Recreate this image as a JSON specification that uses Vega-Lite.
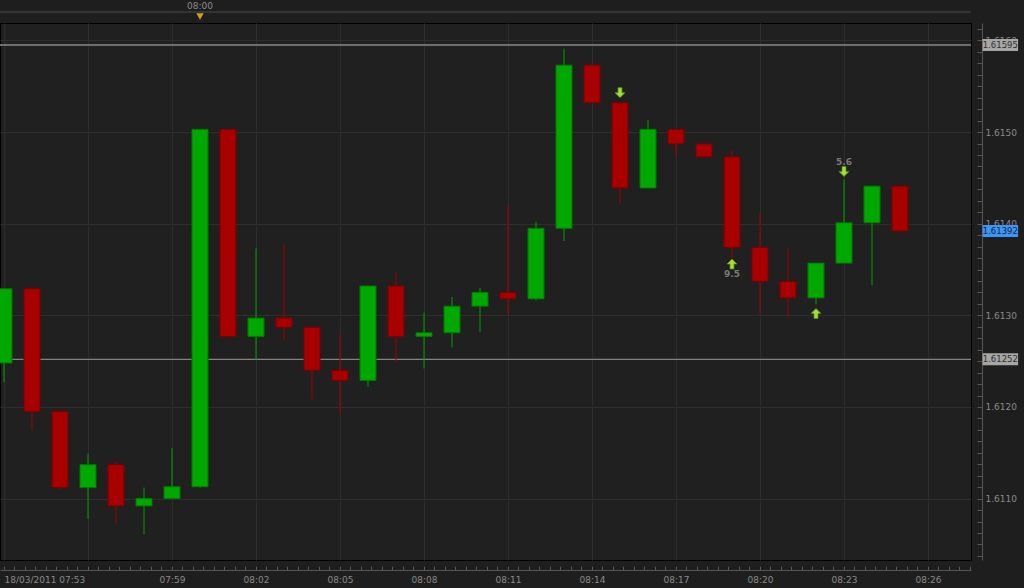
{
  "$schema": "https://vega.github.io/schema/vega-lite/v6.json",
  "width": 971,
  "height": 537,
  "autosize": {"type": "none"},
  "padding": {"left": 0, "top": 23, "right": 53, "bottom": 28},
  "background": "#1e1e1e",
  "config": {
    "view": {"fill": "#202020", "stroke": "#000000", "strokeWidth": 1},
    "axis": {"labelFont": "DejaVu Sans", "labelFontSize": 9, "labelColor": "#8a8a8a", "domainColor": "#555555", "tickColor": "#555555", "gridColor": "#2e2e2e"}
  },
  "resolve": {"axis": {"x": "independent", "y": "independent"}},
  "datasets": {
    "candles": [
      {"time": "2011-03-18T07:53:00Z", "open": 1.61248, "high": 1.61330, "low": 1.61227, "close": 1.61329},
      {"time": "2011-03-18T07:54:00Z", "open": 1.61329, "high": 1.61330, "low": 1.61175, "close": 1.61195},
      {"time": "2011-03-18T07:55:00Z", "open": 1.61195, "high": 1.61196, "low": 1.61110, "close": 1.61112},
      {"time": "2011-03-18T07:56:00Z", "open": 1.61112, "high": 1.61149, "low": 1.61078, "close": 1.61137},
      {"time": "2011-03-18T07:57:00Z", "open": 1.61137, "high": 1.61140, "low": 1.61072, "close": 1.61092},
      {"time": "2011-03-18T07:58:00Z", "open": 1.61092, "high": 1.61112, "low": 1.61061, "close": 1.61100},
      {"time": "2011-03-18T07:59:00Z", "open": 1.61100, "high": 1.61155, "low": 1.61100, "close": 1.61113},
      {"time": "2011-03-18T08:00:00Z", "open": 1.61113, "high": 1.61503, "low": 1.61112, "close": 1.61503},
      {"time": "2011-03-18T08:01:00Z", "open": 1.61503, "high": 1.61503, "low": 1.61277, "close": 1.61277},
      {"time": "2011-03-18T08:02:00Z", "open": 1.61277, "high": 1.61373, "low": 1.61251, "close": 1.61297},
      {"time": "2011-03-18T08:03:00Z", "open": 1.61297, "high": 1.61378, "low": 1.61273, "close": 1.61287},
      {"time": "2011-03-18T08:04:00Z", "open": 1.61287, "high": 1.61288, "low": 1.61208, "close": 1.61240},
      {"time": "2011-03-18T08:05:00Z", "open": 1.61240, "high": 1.61279, "low": 1.61193, "close": 1.61229},
      {"time": "2011-03-18T08:06:00Z", "open": 1.61229, "high": 1.61332, "low": 1.61222, "close": 1.61332},
      {"time": "2011-03-18T08:07:00Z", "open": 1.61332, "high": 1.61347, "low": 1.61249, "close": 1.61277},
      {"time": "2011-03-18T08:08:00Z", "open": 1.61277, "high": 1.61303, "low": 1.61242, "close": 1.61281},
      {"time": "2011-03-18T08:09:00Z", "open": 1.61281, "high": 1.61320, "low": 1.61265, "close": 1.61310},
      {"time": "2011-03-18T08:10:00Z", "open": 1.61310, "high": 1.61330, "low": 1.61282, "close": 1.61325},
      {"time": "2011-03-18T08:11:00Z", "open": 1.61325, "high": 1.61420, "low": 1.61301, "close": 1.61318},
      {"time": "2011-03-18T08:12:00Z", "open": 1.61318, "high": 1.61402, "low": 1.61316, "close": 1.61395},
      {"time": "2011-03-18T08:13:00Z", "open": 1.61395, "high": 1.61591, "low": 1.61381, "close": 1.61573},
      {"time": "2011-03-18T08:14:00Z", "open": 1.61573, "high": 1.61575, "low": 1.61532, "close": 1.61532},
      {"time": "2011-03-18T08:15:00Z", "open": 1.61532, "high": 1.61532, "low": 1.61422, "close": 1.61439},
      {"time": "2011-03-18T08:16:00Z", "open": 1.61439, "high": 1.61513, "low": 1.61439, "close": 1.61503},
      {"time": "2011-03-18T08:17:00Z", "open": 1.61503, "high": 1.61503, "low": 1.61473, "close": 1.61487},
      {"time": "2011-03-18T08:18:00Z", "open": 1.61487, "high": 1.61487, "low": 1.61473, "close": 1.61473},
      {"time": "2011-03-18T08:19:00Z", "open": 1.61473, "high": 1.61480, "low": 1.61355, "close": 1.61374},
      {"time": "2011-03-18T08:20:00Z", "open": 1.61374, "high": 1.61412, "low": 1.61302, "close": 1.61337},
      {"time": "2011-03-18T08:21:00Z", "open": 1.61337, "high": 1.61373, "low": 1.61298, "close": 1.61319},
      {"time": "2011-03-18T08:22:00Z", "open": 1.61319, "high": 1.61357, "low": 1.61312, "close": 1.61357},
      {"time": "2011-03-18T08:23:00Z", "open": 1.61357, "high": 1.61448, "low": 1.61357, "close": 1.61401},
      {"time": "2011-03-18T08:24:00Z", "open": 1.61401, "high": 1.61441, "low": 1.61333, "close": 1.61441},
      {"time": "2011-03-18T08:25:00Z", "open": 1.61441, "high": 1.61441, "low": 1.61392, "close": 1.61392}
    ],
    "signals": [
      {"time": "2011-03-18T08:15:00Z", "price": 1.61543, "dir": "down", "label": ""},
      {"time": "2011-03-18T08:19:00Z", "price": 1.61356, "dir": "up", "label": "9.5"},
      {"time": "2011-03-18T08:22:00Z", "price": 1.61302, "dir": "up", "label": ""},
      {"time": "2011-03-18T08:23:00Z", "price": 1.61457, "dir": "down", "label": "5.6"}
    ],
    "levels": [
      {"level": 1.61595, "kind": "top"},
      {"level": 1.61392, "kind": "last"},
      {"level": 1.61252, "kind": "line"}
    ]
  },
  "layer": [
    {
      "data": {"name": "levels"},
      "transform": [{"filter": "datum.kind != 'last'"}],
      "mark": {"type": "rule"},
      "encoding": {
        "y": {
          "field": "level", "type": "quantitative", "title": null,
          "scale": {"domain": [1.61033, 1.61619], "nice": false, "zero": false},
          "axis": {
            "orient": "right", "offset": 11,
            "values": [1.610375, 1.6105, 1.610625, 1.61075, 1.610875, 1.611, 1.611125, 1.61125, 1.611375, 1.6115, 1.611625, 1.61175, 1.611875, 1.612, 1.612125, 1.61225, 1.612375, 1.6125, 1.612625, 1.61275, 1.612875, 1.613, 1.613125, 1.61325, 1.613375, 1.6135, 1.613625, 1.61375, 1.613875, 1.614, 1.614125, 1.61425, 1.614375, 1.6145, 1.614625, 1.61475, 1.614875, 1.615, 1.615125, 1.61525, 1.615375, 1.6155, 1.615625, 1.61575, 1.615875, 1.616, 1.616125],
            "labelExpr": "abs(datum.value*1000-round(datum.value*1000))<0.01 ? format(datum.value,'.4f') : ''",
            "labelAlign": "left", "labelPadding": 8, "labelOverlap": false,
            "tickSize": -5,
            "grid": true,
            "gridOpacity": {"condition": {"test": "abs(datum.value*1000-round(datum.value*1000))<0.01", "value": 1}, "value": 0}
          }
        },
        "color": {"condition": {"test": "datum.kind == 'top'", "value": "#6e6e6e"}, "value": "#9a9a9a"},
        "strokeWidth": {"condition": {"test": "datum.kind == 'top'", "value": 2}, "value": 1}
      }
    },
    {
      "data": {"name": "candles"},
      "mark": {"type": "rule", "clip": true, "strokeWidth": 1},
      "encoding": {
        "x": {
          "field": "time", "type": "temporal", "title": null,
          "scale": {"type": "utc", "domain": [{"year": 2011, "month": 3, "date": 18, "hours": 7, "minutes": 52, "seconds": 51, "milliseconds": 430, "utc": true}, {"year": 2011, "month": 3, "date": 18, "hours": 8, "minutes": 27, "seconds": 32, "milliseconds": 143, "utc": true}], "nice": false, "padding": 0},
          "axis": {
            "orient": "bottom", "offset": 10,
            "values": [1300434780000, 1300434802500, 1300434825000, 1300434847500, 1300434870000, 1300434892500, 1300434915000, 1300434937500, 1300434960000, 1300434982500, 1300435005000, 1300435027500, 1300435050000, 1300435072500, 1300435095000, 1300435117500, 1300435140000, 1300435162500, 1300435185000, 1300435207500, 1300435230000, 1300435252500, 1300435275000, 1300435297500, 1300435320000, 1300435342500, 1300435365000, 1300435387500, 1300435410000, 1300435432500, 1300435455000, 1300435477500, 1300435500000, 1300435522500, 1300435545000, 1300435567500, 1300435590000, 1300435612500, 1300435635000, 1300435657500, 1300435680000, 1300435702500, 1300435725000, 1300435747500, 1300435770000, 1300435792500, 1300435815000, 1300435837500, 1300435860000, 1300435882500, 1300435905000, 1300435927500, 1300435950000, 1300435972500, 1300435995000, 1300436017500, 1300436040000, 1300436062500, 1300436085000, 1300436107500, 1300436130000, 1300436152500, 1300436175000, 1300436197500, 1300436220000, 1300436242500, 1300436265000, 1300436287500, 1300436310000, 1300436332500, 1300436355000, 1300436377500, 1300436400000, 1300436422500, 1300436445000, 1300436467500, 1300436490000, 1300436512500, 1300436535000, 1300436557500, 1300436580000, 1300436602500, 1300436625000, 1300436647500, 1300436670000, 1300436692500, 1300436715000, 1300436737500, 1300436760000, 1300436782500, 1300436805000, 1300436827500, 1300436850000],
            "labelOverlap": false, "labelFlush": false, "labelPadding": 9,
            "labelExpr": "(utcseconds(datum.value)==0 && utcmilliseconds(datum.value)==0 && (utcminutes(datum.value)+1)%3==0) ? (utcFormat(datum.value,'%H:%M')=='07:53' ? '18/03/2011 07:53' : (utcFormat(datum.value,'%H:%M')=='07:56' ? '' : utcFormat(datum.value,'%H:%M'))) : ''",
            "labelAlign": {"condition": {"test": "utcFormat(datum.value,'%H:%M:%S')=='07:53:00'", "value": "left"}, "value": "center"},
            "tickSize": -4,
            "grid": true,
            "gridOpacity": {"condition": {"test": "utcseconds(datum.value)==0 && utcmilliseconds(datum.value)==0 && (utcminutes(datum.value)+1)%3==0", "value": 1}, "value": 0}
          }
        },
        "y": {"field": "low", "type": "quantitative", "title": null, "axis": null},
        "y2": {"field": "high"},
        "color": {"condition": {"test": "datum.close >= datum.open", "value": "#00a000"}, "value": "#a00000"}
      }
    },
    {
      "data": {"name": "candles"},
      "mark": {"type": "bar", "width": 16, "clip": true, "strokeWidth": 1},
      "encoding": {
        "x": {"field": "time", "type": "temporal", "title": null, "axis": null},
        "y": {"field": "open", "type": "quantitative", "title": null, "axis": null},
        "y2": {"field": "close"},
        "fill": {"condition": {"test": "datum.close >= datum.open", "value": "#00a800"}, "value": "#a80000"},
        "stroke": {"condition": {"test": "datum.close >= datum.open", "value": "#007a00"}, "value": "#7a0000"}
      }
    },
    {
      "data": {"name": "signals"},
      "mark": {"type": "point", "filled": true, "size": 100, "opacity": 1, "strokeWidth": 0.8, "stroke": "#4e8c12"},
      "encoding": {
        "x": {"field": "time", "type": "temporal", "title": null, "axis": null},
        "y": {"field": "price", "type": "quantitative", "title": null, "axis": null},
        "shape": {"condition": {"test": "datum.dir == 'up'", "value": "M0,-1L1,0L0.4,0L0.4,1L-0.4,1L-0.4,0L-1,0Z"}, "value": "M0,1L1,0L0.4,0L0.4,-1L-0.4,-1L-0.4,0L-1,0Z"},
        "fill": {"value": "#a4dc3a"}
      }
    },
    {
      "data": {"name": "signals"},
      "transform": [{"filter": "datum.label != '' && datum.dir == 'up'"}],
      "mark": {"type": "text", "dy": 10, "font": "DejaVu Sans", "fontSize": 9, "fontWeight": "bold", "color": "#7a7a7a"},
      "encoding": {
        "x": {"field": "time", "type": "temporal", "title": null, "axis": null},
        "y": {"field": "price", "type": "quantitative", "title": null, "axis": null},
        "text": {"field": "label"}
      }
    },
    {
      "data": {"name": "signals"},
      "transform": [{"filter": "datum.label != '' && datum.dir == 'down'"}],
      "mark": {"type": "text", "dy": -9, "font": "DejaVu Sans", "fontSize": 9, "fontWeight": "bold", "color": "#7a7a7a"},
      "encoding": {
        "x": {"field": "time", "type": "temporal", "title": null, "axis": null},
        "y": {"field": "price", "type": "quantitative", "title": null, "axis": null},
        "text": {"field": "label"}
      }
    },
    {
      "data": {"values": [{"level": 1.61631}]},
      "mark": {"type": "rule", "color": "#4a4a4a", "strokeWidth": 1, "clip": false},
      "encoding": {
        "y": {"field": "level", "type": "quantitative", "title": null, "axis": null}
      }
    },
    {
      "data": {"values": [{"time": "2011-03-18T08:00:00Z", "tag": "08:00"}]},
      "mark": {"type": "point", "shape": "triangle-down", "filled": true, "size": 55, "color": "#d4a017", "opacity": 1, "clip": false},
      "encoding": {
        "x": {"field": "time", "type": "temporal", "title": null, "axis": null},
        "y": {"datum": 1.61626, "type": "quantitative", "axis": null}
      }
    },
    {
      "data": {"values": [{"time": "2011-03-18T08:00:00Z", "tag": "08:00"}]},
      "mark": {"type": "text", "baseline": "middle", "align": "center", "font": "DejaVu Sans", "fontSize": 9, "color": "#8a8a8a", "clip": false},
      "encoding": {
        "x": {"field": "time", "type": "temporal", "title": null, "axis": null},
        "y": {"datum": 1.61638, "type": "quantitative", "axis": null},
        "text": {"field": "tag", "type": "nominal"}
      }
    },
    {
      "data": {"name": "levels"},
      "mark": {"type": "point", "filled": true, "size": 1260, "opacity": 1, "clip": false, "shape": "M-1,-0.34L1,-0.34L1,0.34L-1,0.34Z"},
      "encoding": {
        "x": {"datum": {"year": 2011, "month": 3, "date": 18, "hours": 8, "minutes": 28, "seconds": 35, "utc": true}, "type": "temporal", "axis": null},
        "y": {"field": "level", "type": "quantitative", "title": null, "axis": null},
        "fill": {"condition": {"test": "datum.kind == 'last'", "value": "#3d96f5"}, "value": "#a6a6a6"}
      }
    },
    {
      "data": {"name": "levels"},
      "mark": {"type": "text", "align": "center", "baseline": "middle", "font": "DejaVu Sans", "fontSize": 8.5},
      "encoding": {
        "x": {"datum": {"year": 2011, "month": 3, "date": 18, "hours": 8, "minutes": 28, "seconds": 35, "utc": true}, "type": "temporal", "axis": null},
        "y": {"field": "level", "type": "quantitative", "title": null, "axis": null},
        "text": {"field": "level", "format": ".5f"},
        "color": {"condition": {"test": "datum.kind == 'last'", "value": "#10243f"}, "value": "#2e2e2e"}
      }
    }
  ]
}
